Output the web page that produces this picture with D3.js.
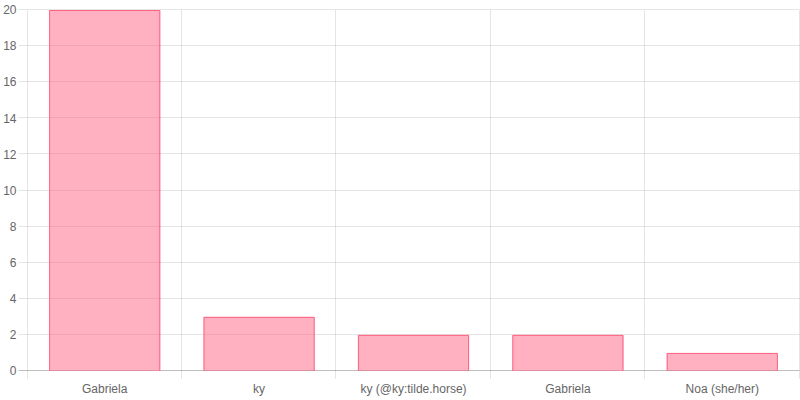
<!DOCTYPE html>
<html>
<head>
<meta charset="utf-8">
<script src="https://cdn.jsdelivr.net/npm/d3@7"></script>
<style>
  html, body { margin: 0; padding: 0; background: #fff; }
  svg { display: block; }
  text { font-family: "Liberation Sans", Arial, Helvetica, sans-serif; font-size: 12px; fill: #666; }
</style>
</head>
<body>
<svg id="chart" width="800" height="400"></svg>
<script>
const names = ['Gabriela', 'ky', 'ky (@ky:tilde.horse)', 'Gabriela', 'Noa (she/her)'];
const counts = [20, 3, 2, 2, 1];
const yTicks = [0, 2, 4, 6, 8, 10, 12, 14, 16, 18, 20];

const svg = d3.select("#chart");

const plotLeft = 27.5, plotRight = 799.5, plotTop = 10, plotBottom = 371;

// keys are indexes since "Gabriela" shows up twice
const keys = names.map((n, i) => i);

const xGrid = d3.scaleBand()
	.domain(keys)
	.range([plotLeft, plotRight])
	.padding(0);

const xBar = d3.scaleBand()
	.domain(keys)
	.range([plotLeft, plotRight])
	.paddingInner(0.28)
	.paddingOuter(0.14);

const y = d3.scaleLinear()
	.domain([0, 20])
	.range([plotBottom, plotTop]);

const snap = v => Math.round(v) + 0.5;

// horizontal grid
svg.append("g").selectAll("line")
	.data(yTicks)
	.join("line")
	.attr("x1", plotLeft - 9)
	.attr("x2", plotRight)
	.attr("y1", d => snap(y(d)) - 1)
	.attr("y2", d => snap(y(d)) - 1)
	.attr("stroke", d => d === 0 ? "rgba(0,0,0,0.25)" : "rgba(0,0,0,0.1)")
	.attr("stroke-width", 1);

// vertical grid, between categories
const vEdges = keys.map(k => xGrid(k)).concat([plotRight]);
svg.append("g").selectAll("line")
	.data(vEdges)
	.join("line")
	.attr("x1", d => snap(d) - 1)
	.attr("x2", d => snap(d) - 1)
	.attr("y1", plotTop)
	.attr("y2", plotBottom + 8)
	.attr("stroke", "rgba(0,0,0,0.1)")
	.attr("stroke-width", 1);

// y labels
svg.append("g").selectAll("text")
	.data(yTicks)
	.join("text")
	.attr("x", plotLeft - 11)
	.attr("y", d => y(d))
	.attr("dy", "0.35em")
	.attr("text-anchor", "end")
	.text(d => d);

// bars
const bars = svg.append("g");
bars.selectAll("rect")
	.data(keys)
	.join("rect")
	.attr("x", k => xBar(k))
	.attr("y", k => y(counts[k]))
	.attr("width", xBar.bandwidth())
	.attr("height", k => y(0) - y(counts[k]))
	.attr("fill", "rgba(255,99,132,0.5)");

bars.selectAll("path")
	.data(keys)
	.join("path")
	.attr("d", k => {
		const x0 = xBar(k) + 0.5, x1 = xBar(k) + xBar.bandwidth() - 0.5;
		const yt = y(counts[k]) + 0.5, yb = y(0);
		return `M${x0},${yb}V${yt}H${x1}V${yb}`;
	})
	.attr("fill", "none")
	.attr("stroke", "rgb(255,99,132)")
	.attr("stroke-width", 1);

// x labels
svg.append("g").selectAll("text")
	.data(keys)
	.join("text")
	.attr("x", k => xGrid(k) + xGrid.bandwidth() / 2)
	.attr("y", 389)
	.attr("dy", "0.35em")
	.attr("text-anchor", "middle")
	.text(k => names[k]);
</script>
</body>
</html>
